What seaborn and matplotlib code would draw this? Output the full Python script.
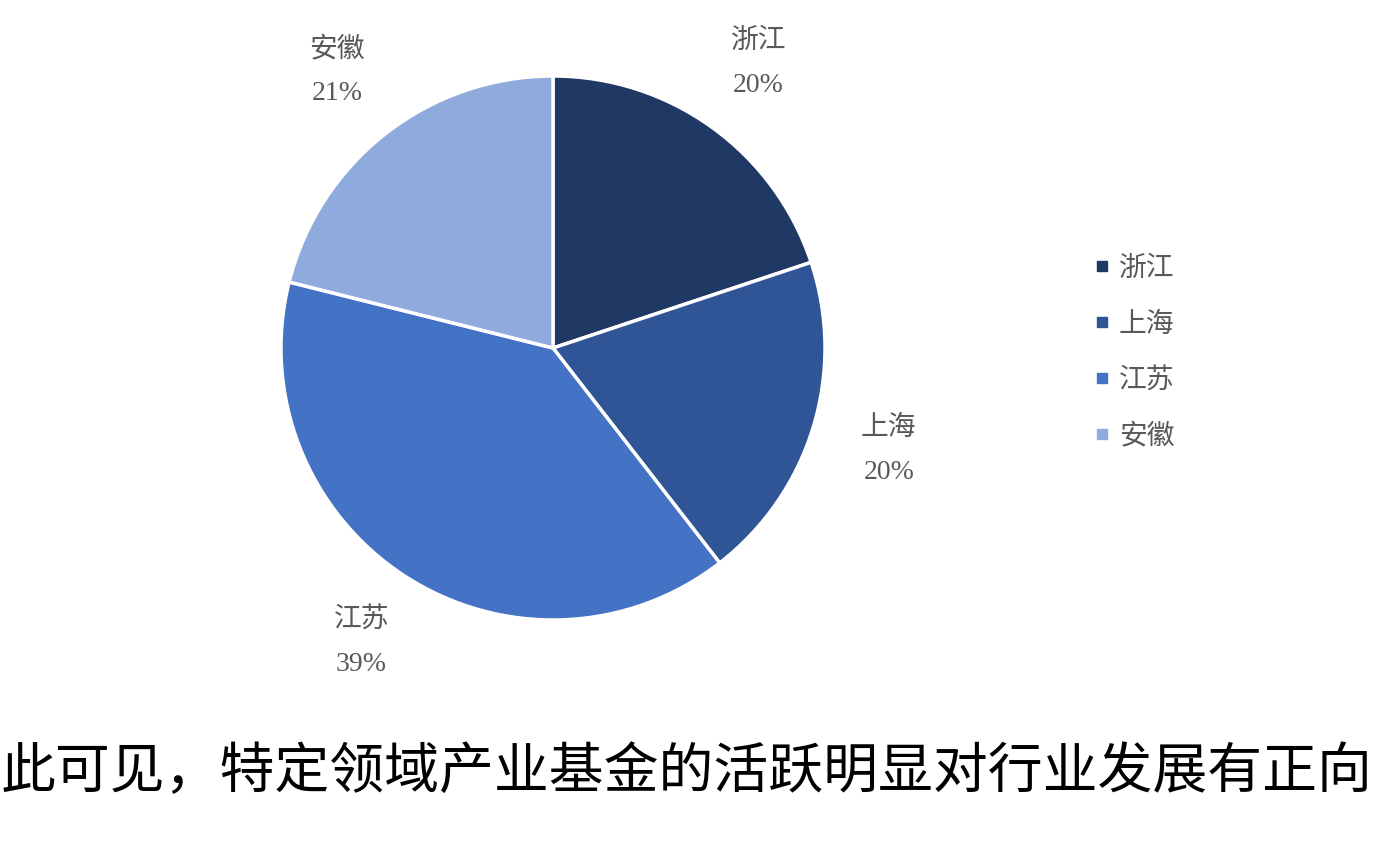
import matplotlib
matplotlib.use("Agg")
import matplotlib.pyplot as plt
import seaborn as sns
from matplotlib.lines import Line2D

regions = ["浙江", "上海", "江苏", "安徽"]
shares = [19.9, 19.6, 39.4, 21.1]
pct_labels = ["20%", "20%", "39%", "21%"]
colors = ["#203864", "#2F5597", "#4472C4", "#8FAADC"]
caption = "此可见，特定领域产业基金的活跃明显对行业发展有正向"

sns.set_theme(style="white")
plt.rcParams["font.family"] = ["Liberation Serif", "Noto Sans CJK SC", "DejaVu Sans"]

W, H = 1382, 841
fig = plt.figure(figsize=(W / 100, H / 100), dpi=100)
cx, cy, r = 553, 348, 272
ax = fig.add_axes([(cx - r) / W, (H - cy - r) / H, 2 * r / W, 2 * r / H])

labels = [f"{n}\n{p}" for n, p in zip(regions, pct_labels)]
wedges, texts = ax.pie(
    shares, labels=labels, colors=colors, startangle=90, counterclock=False,
    labeldistance=1.29, radius=1,
    wedgeprops=dict(edgecolor="white", linewidth=2.5),
    textprops=dict(color="#595959", fontsize=20, linespacing=2.0),
)
for t in texts:
    t.set_ha("center")
    t.set_va("center")
ax.set_xlim(-1, 1)
ax.set_ylim(-1, 1)
ax.set_aspect("equal")
ax.axis("off")

handles = [Line2D([0], [0], marker="s", linestyle="", markersize=7,
                  markerfacecolor=c, markeredgecolor=c) for c in colors]
fig.legend(handles, regions, loc="center left", bbox_to_anchor=(1080 / W, 1 - 353 / H),
           frameon=False, fontsize=20, labelcolor="#595959", handlelength=0.6,
           handletextpad=0.3, labelspacing=1.08, borderpad=0)

fig.text(1 / W, 1 - 772 / H, caption, fontsize=39.5, color="black",
         ha="left", va="center", family=["Noto Sans CJK SC"])

fig.savefig("out.png", dpi=100, facecolor="white")
